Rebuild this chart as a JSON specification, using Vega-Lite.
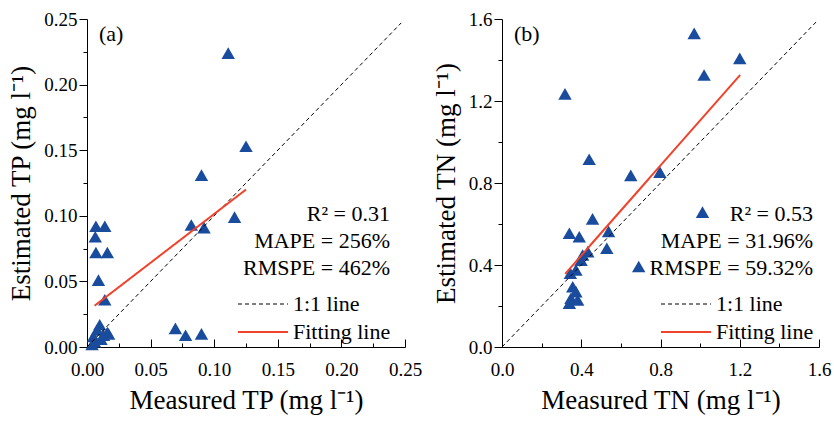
{
  "$schema": "https://vega.github.io/schema/vega-lite/v6.json",
  "background": "white",
  "padding": {"left": 7, "top": 10, "right": 5, "bottom": 5},
  "spacing": 10,
  "config": {
    "view": {"stroke": null},
    "font": "Liberation Serif",
    "axis": {
      "labelFont": "Liberation Serif", "labelFontSize": 19, "labelColor": "black",
      "titleFont": "Liberation Serif", "titleFontSize": 27, "titleFontWeight": "normal", "titleColor": "black",
      "domainColor": "black", "tickColor": "black", "grid": false, "labelFlush": false, "labelOverlap": false,
      "domainWidth": 1, "tickWidth": 1
    },
    "legend": {
      "titleFont": "Liberation Serif", "titleFontSize": 22, "titleFontWeight": "normal", "titleColor": "black",
      "labelFont": "Liberation Serif", "labelFontSize": 22, "labelColor": "black",
      "titleAnchor": "end", "titleAlign": "right", "titleLineHeight": 27, "titlePadding": 13,
      "symbolType": "M-5,0L5,0", "symbolSize": 100, "labelOffset": 19, "rowPadding": 6, "titleLimit": 400, "labelLimit": 400
    },
    "title": {"font": "Liberation Serif", "fontSize": 22, "fontWeight": "normal", "color": "black", "anchor": "start", "frame": "group"}
  },
  "datasets": {
    "tp": [
      {"measured": 0.111, "estimated": 0.224},
      {"measured": 0.125, "estimated": 0.153},
      {"measured": 0.090, "estimated": 0.131},
      {"measured": 0.116, "estimated": 0.099},
      {"measured": 0.082, "estimated": 0.093},
      {"measured": 0.092, "estimated": 0.091},
      {"measured": 0.007, "estimated": 0.092},
      {"measured": 0.014, "estimated": 0.092},
      {"measured": 0.0065, "estimated": 0.084},
      {"measured": 0.007, "estimated": 0.072},
      {"measured": 0.016, "estimated": 0.072},
      {"measured": 0.009, "estimated": 0.051},
      {"measured": 0.014, "estimated": 0.036},
      {"measured": 0.0695, "estimated": 0.0142},
      {"measured": 0.0775, "estimated": 0.009},
      {"measured": 0.090, "estimated": 0.010},
      {"measured": 0.010, "estimated": 0.017},
      {"measured": 0.008, "estimated": 0.013},
      {"measured": 0.016, "estimated": 0.011},
      {"measured": 0.005, "estimated": 0.008},
      {"measured": 0.013, "estimated": 0.009},
      {"measured": 0.006, "estimated": 0.004},
      {"measured": 0.011, "estimated": 0.006},
      {"measured": 0.004, "estimated": 0.002},
      {"measured": 0.017, "estimated": 0.010}
    ],
    "tn": [
      {"measured": 0.97, "estimated": 1.53},
      {"measured": 1.20, "estimated": 1.408},
      {"measured": 1.02, "estimated": 1.327},
      {"measured": 0.318, "estimated": 1.235},
      {"measured": 0.44, "estimated": 0.916},
      {"measured": 0.65, "estimated": 0.837},
      {"measured": 0.797, "estimated": 0.853},
      {"measured": 1.012, "estimated": 0.658},
      {"measured": 0.457, "estimated": 0.625},
      {"measured": 0.340, "estimated": 0.555},
      {"measured": 0.538, "estimated": 0.564},
      {"measured": 0.390, "estimated": 0.538},
      {"measured": 0.433, "estimated": 0.465},
      {"measured": 0.407, "estimated": 0.449},
      {"measured": 0.529, "estimated": 0.482},
      {"measured": 0.399, "estimated": 0.424},
      {"measured": 0.373, "estimated": 0.376},
      {"measured": 0.345, "estimated": 0.360},
      {"measured": 0.357, "estimated": 0.294},
      {"measured": 0.373, "estimated": 0.270},
      {"measured": 0.348, "estimated": 0.238},
      {"measured": 0.382, "estimated": 0.229},
      {"measured": 0.340, "estimated": 0.214},
      {"measured": 0.69, "estimated": 0.393}
    ],
    "tpLines": [
      {"series": "1:1 line", "measured": 0, "estimated": 0},
      {"series": "1:1 line", "measured": 0.247, "estimated": 0.247},
      {"series": "Fitting line", "measured": 0.006, "estimated": 0.0315},
      {"series": "Fitting line", "measured": 0.125, "estimated": 0.120}
    ],
    "tnLines": [
      {"series": "1:1 line", "measured": 0, "estimated": 0},
      {"series": "1:1 line", "measured": 1.585, "estimated": 1.585},
      {"series": "Fitting line", "measured": 0.319, "estimated": 0.357},
      {"series": "Fitting line", "measured": 1.202, "estimated": 1.327}
    ]
  },
  "hconcat": [
    {
      "width": 318, "height": 328,
      "title": {"text": "(a)", "offset": -36, "dx": 12},
      "resolve": {"axis": {"x": "independent", "y": "independent"}},
      "layer": [
        {
          "data": {"name": "tp"},
          "mark": {"type": "point", "shape": "triangle-up", "filled": true, "size": 180, "opacity": 1, "color": "#1a4c9e"},
          "encoding": {
            "x": {"field": "measured", "type": "quantitative", "scale": {"domain": [0, 0.25], "nice": false, "zero": false},
              "axis": {"orient": "bottom", "values": [0, 0.05, 0.1, 0.15, 0.2, 0.25], "format": ".2f", "tickSize": -8, "labelPadding": 21, "title": "Measured TP (mg l⁻¹)", "titlePadding": 8}},
            "y": {"field": "estimated", "type": "quantitative", "scale": {"domain": [0, 0.25], "nice": false, "zero": false},
              "axis": {"orient": "left", "values": [0, 0.05, 0.1, 0.15, 0.2, 0.25], "format": ".2f", "tickSize": 8, "labelPadding": 2, "title": "Estimated TP (mg l⁻¹)", "titlePadding": 8}}
          }
        },
        {
          "data": {"name": "tpLines"},
          "mark": {"type": "line"},
          "encoding": {
            "x": {"field": "measured", "type": "quantitative",
              "axis": {"orient": "bottom", "values": [0.025, 0.075, 0.125, 0.175, 0.225], "labels": false, "domain": false, "tickSize": -4, "title": null}},
            "y": {"field": "estimated", "type": "quantitative",
              "axis": {"orient": "left", "values": [0.025, 0.075, 0.125, 0.175, 0.225], "labels": false, "domain": false, "tickSize": 4, "title": null}},
            "color": {"field": "series", "type": "nominal",
              "scale": {"domain": ["1:1 line", "Fitting line"], "range": ["black", "#f0432b"]},
              "legend": {"orient": "none", "legendX": 156, "legendY": 185, "title": ["R² = 0.31", "MAPE = 256%", "RMSPE = 462%"]}},
            "strokeDash": {"field": "series", "type": "nominal", "scale": {"domain": ["1:1 line", "Fitting line"], "range": [[4, 3], [1, 0]]}},
            "strokeWidth": {"field": "series", "type": "nominal", "scale": {"domain": ["1:1 line", "Fitting line"], "range": [1, 2]}}
          }
        }
      ]
    },
    {
      "width": 317, "height": 328,
      "title": {"text": "(b)", "offset": -36, "dx": 12},
      "resolve": {"axis": {"x": "independent", "y": "independent"}},
      "layer": [
        {
          "data": {"name": "tn"},
          "mark": {"type": "point", "shape": "triangle-up", "filled": true, "size": 180, "opacity": 1, "color": "#1a4c9e"},
          "encoding": {
            "x": {"field": "measured", "type": "quantitative", "scale": {"domain": [0, 1.6], "nice": false, "zero": false},
              "axis": {"orient": "bottom", "values": [0, 0.4, 0.8, 1.2, 1.6], "format": ".1f", "tickSize": -8, "labelPadding": 21, "title": "Measured TN (mg l⁻¹)", "titlePadding": 8}},
            "y": {"field": "estimated", "type": "quantitative", "scale": {"domain": [0, 1.6], "nice": false, "zero": false},
              "axis": {"orient": "left", "values": [0, 0.4, 0.8, 1.2, 1.6], "format": ".1f", "tickSize": 8, "labelPadding": 2, "title": "Estimated TN (mg l⁻¹)", "titlePadding": 8}}
          }
        },
        {
          "data": {"name": "tnLines"},
          "mark": {"type": "line"},
          "encoding": {
            "x": {"field": "measured", "type": "quantitative",
              "axis": {"orient": "bottom", "values": [0.2, 0.6, 1.0, 1.4], "labels": false, "domain": false, "tickSize": -4, "title": null}},
            "y": {"field": "estimated", "type": "quantitative",
              "axis": {"orient": "left", "values": [0.2, 0.6, 1.0, 1.4], "labels": false, "domain": false, "tickSize": 4, "title": null}},
            "color": {"field": "series", "type": "nominal",
              "scale": {"domain": ["1:1 line", "Fitting line"], "range": ["black", "#f0432b"]},
              "legend": {"orient": "none", "legendX": 148, "legendY": 185, "title": ["R² = 0.53", "MAPE = 31.96%", "RMSPE = 59.32%"]}},
            "strokeDash": {"field": "series", "type": "nominal", "scale": {"domain": ["1:1 line", "Fitting line"], "range": [[4, 3], [1, 0]]}},
            "strokeWidth": {"field": "series", "type": "nominal", "scale": {"domain": ["1:1 line", "Fitting line"], "range": [1, 2]}}
          }
        }
      ]
    }
  ],
  "resolve": {"legend": {"color": "independent", "strokeDash": "independent", "strokeWidth": "independent"}, "scale": {"color": "independent", "strokeDash": "independent", "strokeWidth": "independent"}}
}
